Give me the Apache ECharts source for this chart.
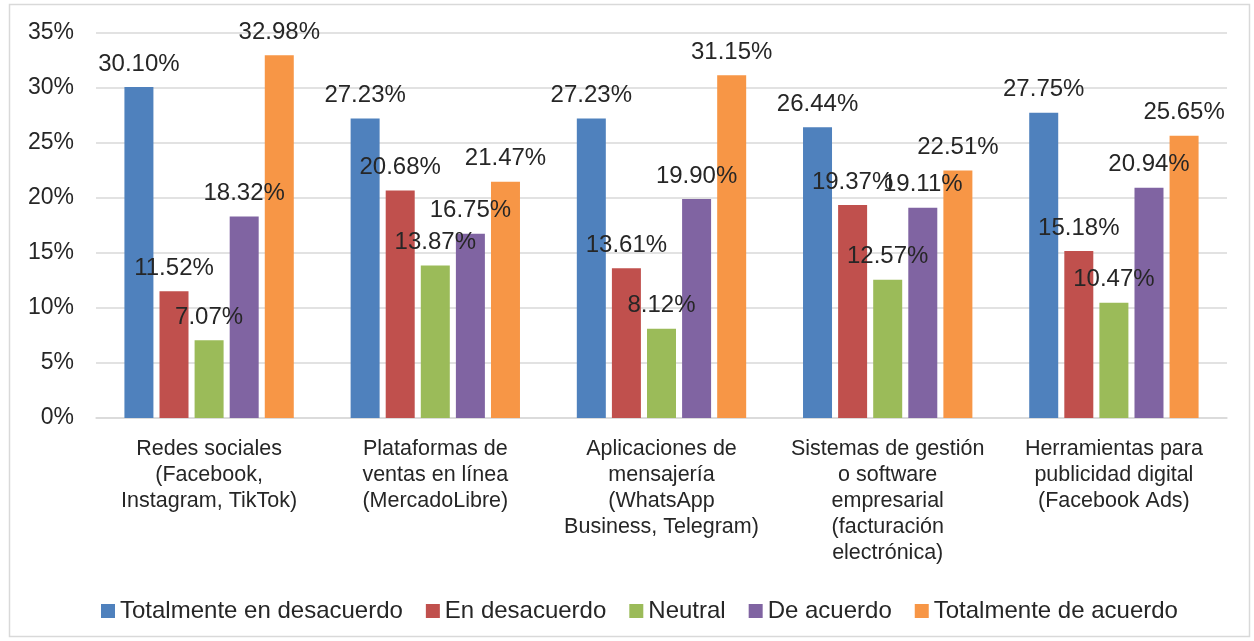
<!DOCTYPE html>
<html>
<head>
<meta charset="utf-8">
<script src="https://cdn.jsdelivr.net/npm/echarts@6/dist/echarts.min.js"></script>
<style>
  html, body { margin: 0; padding: 0; background: #fff; }
  #chart { width: 1254px; height: 641px; }
</style>
</head>
<body>
<div id="chart"></div>
<script>
var categories = [
  'Redes sociales\n(Facebook,\nInstagram, TikTok)',
  'Plataformas de\nventas en línea\n(MercadoLibre)',
  'Aplicaciones de\nmensajería\n(WhatsApp\nBusiness, Telegram)',
  'Sistemas de gestión\no software\nempresarial\n(facturación\nelectrónica)',
  'Herramientas para\npublicidad digital\n(Facebook Ads)'
];
var seriesNames = ['Totalmente en desacuerdo', 'En desacuerdo', 'Neutral', 'De acuerdo', 'Totalmente de acuerdo'];
var totDesacuerdo = [30.10, 27.23, 27.23, 26.44, 27.75];
var enDesacuerdo = [11.52, 20.68, 13.61, 19.37, 15.18];
var neutral = [7.07, 13.87, 8.12, 12.57, 10.47];
var deAcuerdo = [18.32, 16.75, 19.90, 19.11, 20.94];
var totAcuerdo = [32.98, 21.47, 31.15, 22.51, 25.65];
var colors = ['#4F81BD', '#C0504D', '#9BBB59', '#8064A2', '#F79646'];

var allData = [totDesacuerdo, enDesacuerdo, neutral, deAcuerdo, totAcuerdo];
var font = 'Liberation Sans, Arial, sans-serif';
var txt = '#262626';

var chart = echarts.init(document.getElementById('chart'));

var series = seriesNames.map(function (name, i) {
  return {
    name: name,
    type: 'bar',
    data: allData[i],
    barWidth: 29,
    barGap: '21%',
    itemStyle: { color: colors[i] },
    label: {
      show: true,
      position: 'top',
      distance: 11,
      color: txt,
      fontSize: 24,
      fontFamily: font,
      formatter: function (p) { return p.value.toFixed(2) + '%'; }
    }
  };
});

chart.setOption({
  animation: false,
  color: colors,
  textStyle: { fontFamily: font },
  graphic: [{
    type: 'rect',
    shape: { x: 9.5, y: 4.5, width: 1240, height: 632 },
    style: { fill: 'none', stroke: '#d9d9d9', lineWidth: 1.5 },
    silent: true
  }],
  grid: { left: 96, right: 27, top: 33, bottom: 223 },
  legend: {
    bottom: 13,
    left: 96,
    itemWidth: 14,
    itemHeight: 14,
    itemGap: 23,
    icon: 'rect',
    textStyle: { fontSize: 24, color: txt, fontFamily: font },
    data: seriesNames
  },
  xAxis: {
    type: 'category',
    data: categories,
    axisLine: { lineStyle: { color: '#d9d9d9', width: 1.5 } },
    axisTick: { show: false },
    axisLabel: {
      interval: 0,
      color: txt,
      fontSize: 21.5,
      fontFamily: font,
      lineHeight: 26,
      margin: 18
    }
  },
  yAxis: {
    type: 'value',
    min: 0,
    max: 35,
    interval: 5,
    axisLine: { show: false },
    axisTick: { show: false },
    splitLine: { lineStyle: { color: '#d9d9d9', width: 1.5 } },
    axisLabel: {
      color: txt,
      fontSize: 23,
      fontFamily: font,
      margin: 22,
      formatter: '{value}%'
    }
  },
  series: series
});
</script>
</body>
</html>
